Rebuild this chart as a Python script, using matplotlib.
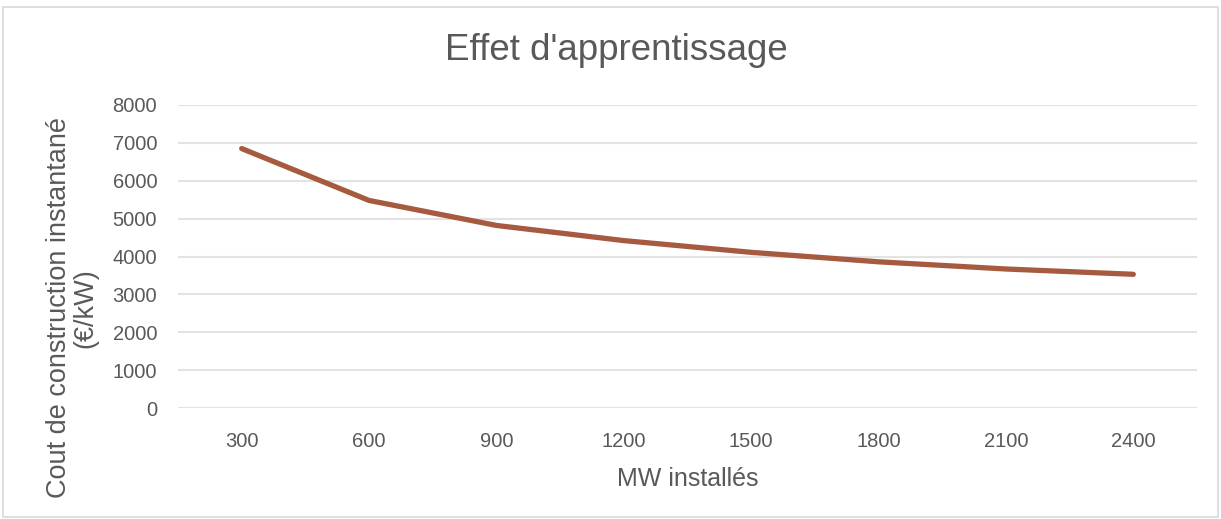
import matplotlib
matplotlib.use('Agg')
import matplotlib.pyplot as plt
from matplotlib.patches import Rectangle

# données
mw_installes = ['300', '600', '900', '1200', '1500', '1800', '2100', '2400']
cout_kw = [6850, 5480, 4820, 4420, 4110, 3860, 3670, 3530]
y_ticks = [0, 1000, 2000, 3000, 4000, 5000, 6000, 7000, 8000]

GRIS = '#595959'
plt.rcParams['font.family'] = ['Liberation Sans', 'DejaVu Sans']

W, H = 1221, 519
fig = plt.figure(figsize=(W / 100, H / 100), dpi=100)
ax = fig.add_axes([178 / W, 1 - 408 / H, (1197 - 178) / W, (408 - 105) / H])

x = list(range(len(mw_installes)))
ax.plot(x, cout_kw, color='#A65A40', linewidth=3.8, solid_capstyle='round')

ax.set_xlim(-0.5, len(mw_installes) - 0.5)
ax.set_ylim(0, 8000)
ax.set_yticks(y_ticks)
ax.set_xticks(x)
ax.set_xticklabels(mw_installes)
ax.grid(axis='y', color='#E3E3E3', linewidth=1.5)
ax.set_axisbelow(True)
for s in ax.spines.values():
    s.set_visible(False)
ax.tick_params(length=0, labelsize=14.5, labelcolor=GRIS)
ax.tick_params(axis='y', pad=15)
ax.tick_params(axis='x', pad=17)

ax.set_xlabel('MW installés', fontsize=18, color=GRIS, labelpad=12)

fig.text(616 / W, 1 - 50 / H, "Effet d'apprentissage", fontsize=26.5, color=GRIS,
         ha='center', va='center')
fig.text(72 / W, 1 - 308 / H, 'Cout de construction instantané\n(€/kW)', fontsize=19.5,
         color=GRIS, rotation=90, ha='center', va='center', multialignment='center',
         linespacing=1.0)

# cadre du graphique
fig.patches.append(Rectangle((3 / W, 2 / H), (W - 6) / W, (H - 9) / H, transform=fig.transFigure,
                             fill=False, edgecolor='#D9D9D9', linewidth=1.2))

fig.savefig('out.png', dpi=100)
